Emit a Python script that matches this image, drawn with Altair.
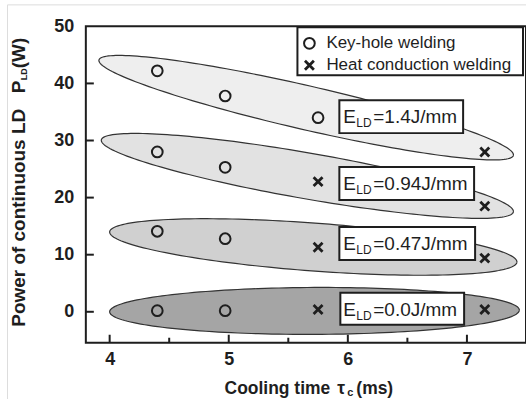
import altair as alt
import numpy as np
import pandas as pd

# ---------------- data ----------------
kh_x = [4.40, 4.97, 5.75, 4.40, 4.97, 4.40, 4.97, 4.40, 4.97]
kh_y = [42.2, 37.8, 34.0, 28.0, 25.3, 14.1, 12.8, 0.2, 0.2]
hc_x = [7.15, 5.75, 7.15, 5.75, 7.15, 5.75, 7.15]
hc_y = [28.0, 22.8, 18.5, 11.3, 9.4, 0.4, 0.4]

ell_name = ["1.4", "0.94", "0.47", "0.0"]
ell_x_left = [3.91, 3.93, 4.00, 4.00]
ell_y_left = [44.1, 30.1, 14.0, 0.0]
ell_x_right = [7.39, 7.39, 7.42, 7.44]
ell_y_right = [27.4, 17.5, 8.7, 0.3]
ell_half_px = [22, 23, 24, 23.5]
ell_fill = ["#eeeeee", "#e2e2e2", "#d0d0d0", "#a5a5a5"]

label_vals = ["=1.4J/mm", "=0.94J/mm", "=0.47J/mm", "=0.0J/mm"]

x_major = [4, 5, 6, 7]
x_minor = [4.5, 5.5, 6.5]
y_ticks = [0, 10, 20, 30, 40, 50]
y_inner = [0, 10, 20, 30, 40]

# ---------------- layout ----------------
X0, X1 = 3.8, 7.496
Y0, Y1 = -5.42, 50.0
W, H = 441, 317
FONT = "Liberation Sans"
INK = "#1e1e1e"

xs = alt.Scale(domain=[X0, X1], nice=False, zero=False)
ys = alt.Scale(domain=[Y0, Y1], nice=False, zero=False)
sx = W / (X1 - X0)
sy = H / (Y1 - Y0)

layers = []

# ellipses
t = np.linspace(0, 2 * np.pi, 181)
for i in range(4):
    pxl, pyl = (ell_x_left[i] - X0) * sx, (Y1 - ell_y_left[i]) * sy
    pxr, pyr = (ell_x_right[i] - X0) * sx, (Y1 - ell_y_right[i]) * sy
    cx, cy = (pxl + pxr) / 2, (pyl + pyr) / 2
    a = np.hypot(pxr - pxl, pyr - pyl) / 2
    ang = np.arctan2(pyr - pyl, pxr - pxl)
    b = ell_half_px[i]
    ex = cx + a * np.cos(t) * np.cos(ang) - b * np.sin(t) * np.sin(ang)
    ey = cy + a * np.cos(t) * np.sin(ang) + b * np.sin(t) * np.cos(ang)
    df = pd.DataFrame({"x": X0 + ex / sx, "y": Y1 - ey / sy, "o": np.arange(len(t))})
    layers.append(
        alt.Chart(df).mark_line(fill=ell_fill[i], stroke="#333333", strokeWidth=1.2)
        .encode(x=alt.X("x:Q", scale=xs), y=alt.Y("y:Q", scale=ys), order="o:Q")
    )

# axes carrier (invisible)
axis_df = pd.DataFrame({"x": x_major, "y": [0, 10, 20, 30]})
layers.append(
    alt.Chart(axis_df).mark_point(opacity=0).encode(
        x=alt.X("x:Q", scale=xs, axis=alt.Axis(values=x_major, title=None, grid=False, ticks=False,
                domain=False, labelFont=FONT, labelFontSize=18, labelFontWeight="bold",
                labelColor=INK, labelPadding=8, format="d")),
        y=alt.Y("y:Q", scale=ys, axis=alt.Axis(values=y_ticks, title=None, grid=False, ticks=False,
                domain=False, labelFont=FONT, labelFontSize=18, labelFontWeight="bold",
                labelColor=INK, labelPadding=12, format="d")),
    )
)

# inward ticks
layers.append(
    alt.Chart(pd.DataFrame({"y": y_inner})).mark_rule(color=INK, strokeWidth=2)
    .encode(y=alt.Y("y:Q", scale=ys), x=alt.value(0), x2=alt.value(8))
)
layers.append(
    alt.Chart(pd.DataFrame({"x": x_major})).mark_rule(color=INK, strokeWidth=2)
    .encode(x=alt.X("x:Q", scale=xs), y=alt.value(H), y2=alt.value(H - 8))
)
layers.append(
    alt.Chart(pd.DataFrame({"x": x_minor})).mark_rule(color=INK, strokeWidth=2)
    .encode(x=alt.X("x:Q", scale=xs), y=alt.value(H), y2=alt.value(H - 5))
)

# points
layers.append(
    alt.Chart(pd.DataFrame({"x": kh_x, "y": kh_y})).mark_point(
        shape="circle", size=115, filled=False, stroke=INK, strokeWidth=2, opacity=1)
    .encode(x=alt.X("x:Q", scale=xs), y=alt.Y("y:Q", scale=ys))
)
XSHAPE = "M-1,-1L1,1M-1,1L1,-1"
layers.append(
    alt.Chart(pd.DataFrame({"x": hc_x, "y": hc_y})).mark_point(
        shape=XSHAPE, size=80, filled=False, stroke=INK, strokeWidth=2.8, opacity=1)
    .encode(x=alt.X("x:Q", scale=xs), y=alt.Y("y:Q", scale=ys))
)

# label boxes (pixel positions)
boxes = pd.DataFrame({
    "x0": [254, 254, 254, 255], "x1": [378, 389, 390, 379],
    "y0": [74, 141, 201, 267], "y1": [107, 174, 234, 299],
    "tb": [97, 164, 224, 290], "rest": label_vals,
})
layers.append(
    alt.Chart(boxes).mark_rect(fill="white", stroke=INK, strokeWidth=2)
    .encode(x=alt.X("x0:Q", scale=None), x2="x1", y=alt.Y("y0:Q", scale=None), y2="y1")
)
layers.append(
    alt.Chart(boxes).mark_text(text="E", font=FONT, fontSize=19, align="left", baseline="alphabetic", color=INK, dx=258)
    .encode(x=alt.value(0), y=alt.Y("tb:Q", scale=None))
)
layers.append(
    alt.Chart(boxes).mark_text(text="LD", font=FONT, fontSize=12, align="left", baseline="alphabetic", color=INK, dx=271, dy=4)
    .encode(x=alt.value(0), y=alt.Y("tb:Q", scale=None))
)
layers.append(
    alt.Chart(boxes).mark_text(font=FONT, fontSize=19, align="left", baseline="alphabetic", color=INK, dx=288)
    .encode(x=alt.value(0), y=alt.Y("tb:Q", scale=None), text="rest:N")
)

# legend
layers.append(
    alt.Chart(pd.DataFrame({"a": [0]})).mark_rect(fill="white", stroke=INK, strokeWidth=2)
    .encode(x=alt.value(212), x2=alt.value(438), y=alt.value(1), y2=alt.value(49))
)
layers.append(
    alt.Chart(pd.DataFrame({"a": [0]})).mark_point(shape="circle", size=115, filled=False, stroke=INK, strokeWidth=2, opacity=1)
    .encode(x=alt.value(224), y=alt.value(17))
)
layers.append(
    alt.Chart(pd.DataFrame({"a": [0]})).mark_point(shape=XSHAPE, size=80, filled=False, stroke=INK, strokeWidth=2.8, opacity=1)
    .encode(x=alt.value(224), y=alt.value(39))
)
leg = pd.DataFrame({"t": ["Key-hole welding", "Heat conduction welding"], "y": [17, 39]})
layers.append(
    alt.Chart(leg).mark_text(font=FONT, fontSize=17, align="left", baseline="middle", color=INK)
    .encode(x=alt.value(241), y=alt.Y("y:Q", scale=None), text="t:N")
)

# axis titles
def txt(s, x, y, size, weight="bold", angle=0, baseline="alphabetic"):
    kw = dict(text=s, font=FONT, fontSize=size, fontWeight=weight, align="left", baseline=baseline, color=INK)
    if angle:
        kw["angle"] = angle
    return alt.Chart(pd.DataFrame({"a": [0]})).mark_text(**kw).encode(x=alt.value(x), y=alt.value(y))

layers.append(txt("Power of continuous LD", -67, 301, 19, angle=270, baseline="middle"))
layers.append(txt("P", -67, 67, 19, angle=270, baseline="middle"))
layers.append(txt("LD", -62, 54, 9, angle=270, baseline="middle"))
layers.append(txt("(W)", -67, 42, 19, angle=270, baseline="middle"))
layers.append(txt("Cooling time", 139, 368, 17.5))
layers.append(txt("τ", 252, 368, 17.5))
layers.append(txt("c", 262, 370, 11))
layers.append(txt("(ms)", 271, 368, 17.5))

# faint outer frame
layers.append(
    alt.Chart(pd.DataFrame({"a": [0]})).mark_rule(color="#dddddd", strokeWidth=1)
    .encode(x=alt.value(-78.5), y=alt.value(-21.5), y2=alt.value(400))
)
layers.append(
    alt.Chart(pd.DataFrame({"a": [0]})).mark_rule(color="#dddddd", strokeWidth=1)
    .encode(x=alt.value(-78.5), x2=alt.value(460), y=alt.value(-21.5))
)

chart = alt.layer(*layers).properties(
    width=W, height=H, autosize="none",
    padding={"left": 86, "top": 26, "right": 0, "bottom": 56},
    background="white",
).configure_view(stroke=INK, strokeWidth=2)

chart.save("out.html", embed_options={"renderer": "svg", "actions": False})
